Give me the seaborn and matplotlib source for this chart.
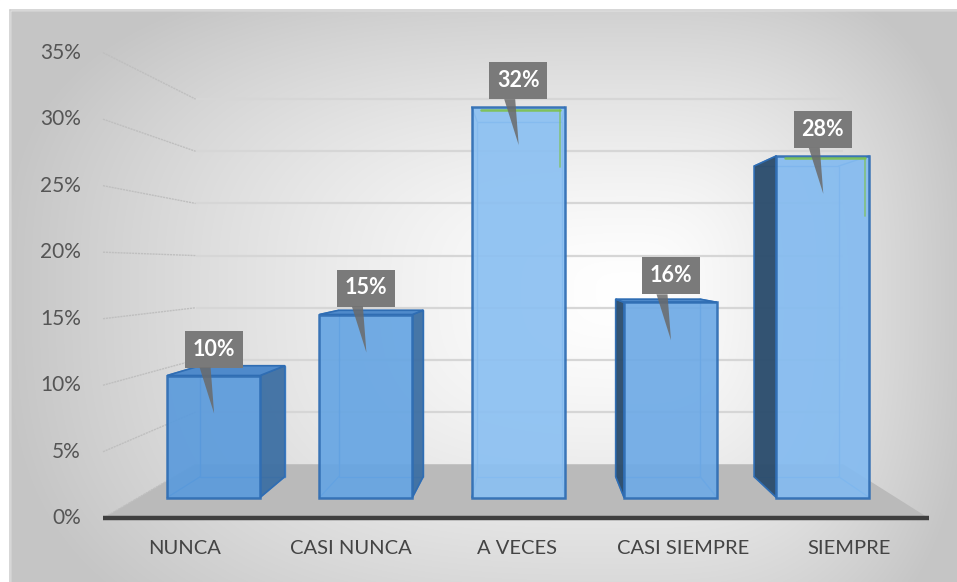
import numpy as np
import pandas as pd
import matplotlib
matplotlib.use("Agg")
import matplotlib.pyplot as plt
from matplotlib.patches import Polygon, Rectangle
import seaborn as sns

# ---- data ----
categorias = ["NUNCA", "CASI NUNCA", "A VECES", "CASI SIEMPRE", "SIEMPRE"]
porcentajes = [10, 15, 32, 16, 28]
marcas_eje = [0, 5, 10, 15, 20, 25, 30, 35]
etiquetas_eje = ["0%", "5%", "10%", "15%", "20%", "25%", "30%", "35%"]

sns.set_theme(style="white")
plt.rcParams["font.family"] = ["Lato", "DejaVu Sans"]

W, H = 957, 582
fig = plt.figure(figsize=(W / 100, H / 100), dpi=100)
fig.patch.set_facecolor("white")

# ---- background panel with a soft gradient ----
bg = fig.add_axes([0, 0, 1, 1])
bg.set_xlim(0, W)
bg.set_ylim(H, 0)
bg.axis("off")
yy, xx = np.mgrid[0:H, 0:W].astype(float)
cx, cy = 630.0, 290.0
dx = np.where(xx < cx, (cx - xx) / 630.0, (xx - cx) / 340.0)
dy = np.where(yy < cy, (cy - yy) / 330.0, (yy - cy) / 400.0)
r = (dx ** 3 + dy ** 3) ** (1 / 3)
shade = 255 - 58 * np.clip(r, 0, 1) ** 1.4
img = np.dstack([shade, shade, shade]) / 255.0
bg.imshow(img, extent=(0, W, H, 0), aspect="auto", zorder=0)
bg.add_patch(Rectangle((0, 0), W, 10, color="white", zorder=1))
bg.add_patch(Rectangle((0, 0), 10, H, color="white", zorder=1))
bg.plot([10, W], [10, 10], color="#cfcfcf", lw=1.2, zorder=2)
bg.plot([10, 10], [10, H], color="#cfcfcf", lw=1.2, zorder=2)

# ---- main axes: front plane of the bars ----
X0, DX = 213.6, 152.3      # pixel centre of first bar, spacing between bars
Y0, SY = 497.5, 12.2       # pixel baseline, pixels per percentage point
ax = fig.add_axes([0, 0, 1, 1])
ax.patch.set_alpha(0)

VX = (532 - X0) / DX        # vanishing point in data units
VY = (Y0 - 268) / SY
K_BACK = 0.909              # depth of the rear face of the bars
K_WALL = 0.855              # back wall
K_LABEL = 1.0905            # front edge of the floor / axis labels
XL = (138.6 - X0) / DX
XR = (896.0 - X0) / DX


def proj(x, y, k):
    return VX + k * (x - VX), VY + k * (y - VY)


df = pd.DataFrame({"categoria": categorias, "porcentaje": porcentajes})
colores = ["#5b9bdc", "#66a5e3", "#8bc0f2", "#6eaae6", "#84bbf0"]
sns.barplot(data=df, x="categoria", y="porcentaje", hue="categoria",
            palette=colores, saturation=1, legend=False, width=0.61, ax=ax,
            edgecolor="#2f6db3", linewidth=1.8, alpha=0.92, zorder=6)

# floor
floor = [proj(XL, 0, K_LABEL), proj(XR, 0, K_LABEL),
         proj(XR, 0, K_WALL), proj(XL, 0, K_WALL)]
ax.add_patch(Polygon(floor, closed=True, facecolor="#bababa",
                     edgecolor="none", zorder=1))

# back wall gridlines and side wall guides
for v in marcas_eje:
    x1, y1 = proj(XL, v, K_WALL)
    x2, y2 = proj(XR, v, K_WALL)
    if v > 0:
        ax.plot([x1, x2], [y1, y2], color="#d6d6d6", lw=1.6, zorder=2,
                solid_capstyle="butt")
    xa, ya = proj(XL, v, K_LABEL)
    ax.plot([xa, x1], [ya, y1], color="#bfbfbf", lw=1.0, zorder=2,
            linestyle=(0, (1.5, 0.6)))
    # tick label on the front edge
    ax.text(xa - 22 / DX, ya, etiquetas_eje[marcas_eje.index(v)],
            ha="right", va="center", fontsize=15, color="#555555")

# axis line along the front of the floor
xa, ya = proj(XL, 0, K_LABEL)
xb, yb = proj(XR, 0, K_LABEL)
ax.plot([xa, xb], [ya, yb], color="#3f3f3f", lw=3.2, zorder=3,
        solid_capstyle="butt")

# category labels along the front edge
for i, nombre in enumerate(categorias):
    lx, ly = proj(i, 0, K_LABEL)
    ax.text(lx, ly - 30 / SY, nombre, ha="center", va="center",
            fontsize=14.5, color="#444444")

# ---- depth for each bar ----
for i, p in enumerate(ax.patches):
    if not isinstance(p, Rectangle) or p.get_height() <= 0:
        continue
    x0 = p.get_x()
    x1 = x0 + p.get_width()
    h = p.get_height()
    fb = [(x0, 0), (x1, 0), (x1, h), (x0, h)]
    bb = [proj(x, y, K_BACK) for x, y in fb]
    # rear outline, seen through the translucent front
    ax.add_patch(Polygon(bb, closed=True, facecolor="none",
                         edgecolor="#4b8ad0", lw=1.0, zorder=5))
    for (fx, fy), (bx, by) in zip(fb, bb):
        ax.plot([fx, bx], [fy, by], color="#4b8ad0", lw=1.0, zorder=5)
    # side face
    if x1 < VX:
        side = [fb[1], fb[2], bb[2], bb[1]]
        ax.add_patch(Polygon(side, closed=True, facecolor="#3d6fa3",
                             alpha=0.95, edgecolor="#2f6db3", lw=1.2,
                             zorder=5.5))
    elif x0 > VX:
        side = [fb[0], fb[3], bb[3], bb[0]]
        ax.add_patch(Polygon(side, closed=True, facecolor="#2d4e6e",
                             alpha=0.97, edgecolor="#2f6db3", lw=1.2,
                             zorder=5.5))
    # top face
    if h < VY:
        top = [fb[3], fb[2], bb[2], bb[3]]
        ax.add_patch(Polygon(top, closed=True, facecolor="#4f8acb",
                             edgecolor="#2f6db3", lw=1.2, zorder=5.5))
    else:
        # thin green highlight just inside the top edge of the tall bars
        gy = h - 2.5 / SY
        ax.plot([x0 + 0.06, x1 - 0.03], [gy, gy], color="#7cc142",
                lw=1.8, alpha=0.85, zorder=7)
        ax.plot([x1 - 0.03, x1 - 0.03], [gy, h - 60 / SY],
                color="#7cc142", lw=1.3, alpha=0.6, zorder=7)

# ---- value callouts ----
BW, BH = 58 / DX, 37 / SY
for i, v in enumerate(porcentajes):
    cxd = i
    bottom = v + 8 / SY
    ax.add_patch(Rectangle((cxd - BW / 2, bottom), BW, BH,
                           facecolor="#7a7a7a", edgecolor="none", zorder=8))
    tri = [(cxd - 14 / DX, bottom), (cxd - 3 / DX, bottom),
           (cxd + 0.5 / DX, v - 38 / SY)]
    ax.add_patch(Polygon(tri, closed=True, facecolor="#6a6a6a",
                         edgecolor="none", alpha=0.85, zorder=8))
    ax.text(cxd, bottom + BH / 2, f"{v}%", ha="center", va="center",
            fontsize=15.5, fontweight="bold", color="white", zorder=9)

ax.set_xlim(-X0 / DX, (W - X0) / DX)
ax.set_ylim((Y0 - H) / SY, Y0 / SY)
ax.axis("off")

fig.savefig("out.png", dpi=100)
